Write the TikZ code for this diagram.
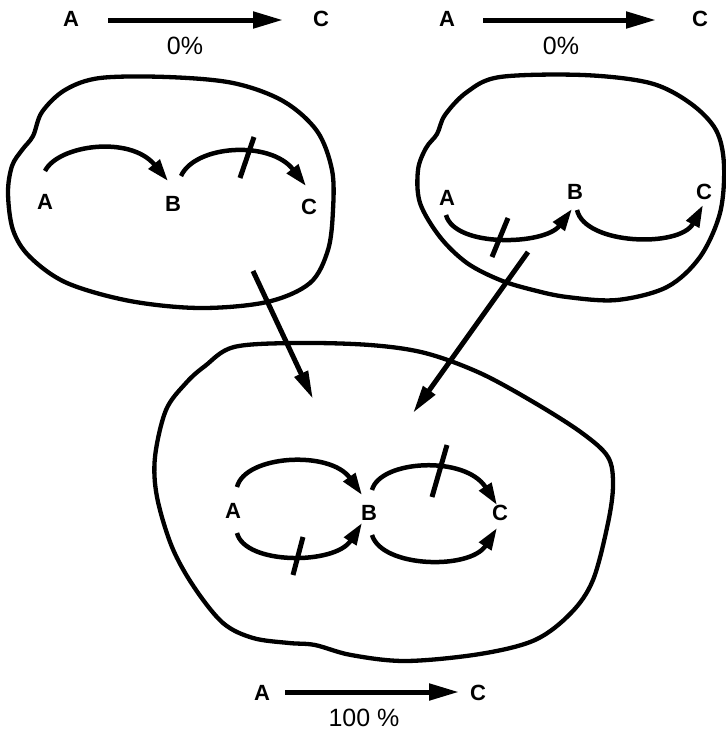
\documentclass[tikz,border=0pt]{standalone}
\usepackage{fontspec}
\setmainfont{Liberation Sans}
\usetikzlibrary{arrows.meta}
\begin{document}
\begin{tikzpicture}[x=1pt,y=-1pt,
  lbl/.style={font=\bfseries\fontsize{22}{24}\selectfont, inner sep=0pt},
  pct/.style={font=\fontsize{25}{27}\selectfont, inner sep=0pt},
  blob/.style={line width=4.3pt, line join=round},
  rx/.style={line width=5pt, -{Triangle[length=30pt,width=16pt]}},
  arc/.style={line width=4.5pt, line cap=butt, -{Triangle[length=22pt,width=14pt]}},
  big/.style={line width=5pt, -{Triangle[length=28pt,width=14pt]}},
  cut/.style={line width=5pt}]
\useasboundingbox (0,0) rectangle (726,732);
% top-left reaction
\node[lbl] (tlA) at (71,19) {A};
\node[lbl] (tlC) at (321,19) {C};
\node[pct] (tlP) at (185,46) {0\%};
\coordinate (tls) at (108,20);
\coordinate (tle) at (283,20);
\draw[rx] (tls) -- (tle);
% top-right reaction
\node[lbl] (trA) at (447,19) {A};
\node[lbl] (trC) at (700,19) {C};
\node[pct] (trP) at (561,46) {0\%};
\coordinate (trs) at (483,20);
\coordinate (tre) at (656,20);
\draw[rx] (trs) -- (tre);
% left blob
\draw[blob] plot[smooth cycle, tension=0.55] coordinates {
 (100,78) (167,77) (233,83) (283,101) (317,131) (332,170) (333,210) (328,250)
 (310,283) (267,302) (200,308) (130,301) (67,283) (30,257) (13,230) (8,193)
 (12,166) (22,150) (33,136) (42,112) (65,90)};
\node[lbl] (lA) at (45,202) {A};
\node[lbl] (lB) at (173,204) {B};
\node[lbl] (lC) at (309,207) {C};
\draw[arc] (45,171) .. controls (58,145) and (130,135) .. (168,181);
\draw[arc] (181,176) .. controls (195,145) and (270,140) .. (306,186);
\draw[cut] (240,178) -- (254,137);
% right blob
\draw[blob] plot[smooth cycle, tension=0.55] coordinates {
 (500,77) (583,75) (650,83) (690,103) (716,130) (724,165) (720,213) (700,257)
 (667,287) (617,300) (567,297) (533,290) (500,280) (467,263) (440,237) (420,203)
 (418,170) (426,148) (437,134) (445,115) (467,92)};
\node[lbl] (rA) at (447,198) {A};
\node[lbl] (rB) at (575,192) {B};
\node[lbl] (rC) at (704,192) {C};
\draw[arc] (446,215) .. controls (455,248) and (545,245) .. (572,209);
\draw[cut] (492,257) -- (508,218);
\draw[arc] (577,210) .. controls (585,245) and (680,248) .. (703,205);
% connecting arrows
\coordinate (la1) at (253,271);
\coordinate (la2) at (313,399);
\coordinate (ra1) at (528,252);
\coordinate (ra2) at (413,413);
\draw[big] (la1) -- (la2);
\draw[big] (ra1) -- (ra2);
% bottom blob
\draw[blob] plot[smooth cycle, tension=0.55] coordinates {
 (234,347) (297,343) (370,345) (425,353) (480,373) (535,403) (582,433) (608,457)
 (613,485) (608,523) (593,580) (571,613) (535,640) (480,654) (406,661) (351,655)
 (315,645) (289,643) (253,638) (223,623) (194,587) (172,547) (157,497) (155,457)
 (166,410) (186,383) (205,366)};
\node[lbl] (bA) at (233,511) {A};
\node[lbl] (bB) at (369,513) {B};
\node[lbl] (bC) at (500,513) {C};
\draw[arc] (237,487) .. controls (245,455) and (330,450) .. (362,495);
\draw[arc] (237,533) .. controls (245,565) and (335,565) .. (362,523);
\draw[cut] (293,575) -- (303,537);
\draw[arc] (372,490) .. controls (380,460) and (465,455) .. (497,505);
\draw[cut] (432,497) -- (447,445);
\draw[arc] (372,535) .. controls (382,568) and (470,570) .. (497,528);
% bottom reaction
\node[lbl] (fA) at (262,693) {A};
\node[lbl] (fC) at (478,693) {C};
\node[pct] (fP) at (364,718) {100 \%};
\coordinate (fs) at (285,692);
\coordinate (fe) at (459,692);
\draw[rx] (fs) -- (fe);
\end{tikzpicture}
\end{document}
